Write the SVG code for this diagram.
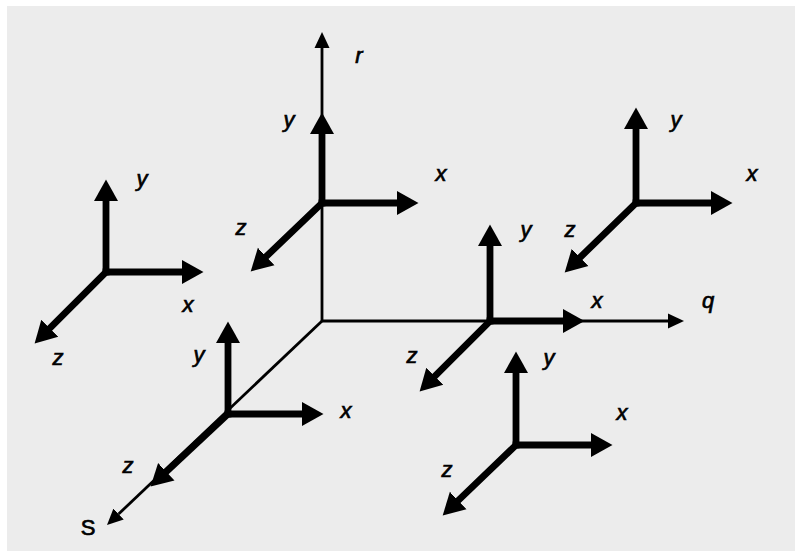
<svg xmlns="http://www.w3.org/2000/svg" width="795" height="551" viewBox="0 0 795 551">
  <defs>
    <marker id="head" markerUnits="userSpaceOnUse" markerWidth="23" markerHeight="26" viewBox="0 -13 23 26" refX="0" refY="0" orient="auto">
      <path d="M0,-12 L21.5,0 L0,12 Z" fill="#000"/>
    </marker>
    <marker id="head-thin" markerUnits="userSpaceOnUse" markerWidth="17" markerHeight="18" viewBox="0 -9 17 18" refX="0" refY="0" orient="auto">
      <path d="M0,-7.5 L16,0 L0,7.5 Z" fill="#000"/>
    </marker>
  </defs>
  <style>
    .bold { stroke: #000; stroke-width: 6.8; stroke-linecap: square; fill: none; marker-end: url(#head); }
    .thin { stroke: #000; stroke-width: 2.8; fill: none; marker-end: url(#head-thin); }
    text { font-family: "Liberation Sans", Arial, sans-serif; font-size: 22px; font-style: italic; fill: #000; stroke: #000; stroke-width: 0.7; text-anchor: middle; }
    text.up { font-style: normal; }
  </style>

  <!-- paper -->
  <rect x="0" y="0" width="795" height="551" fill="#ffffff"/>
  <rect x="7" y="6" width="788" height="545" fill="#ececec"/>

  <!-- reference axes r, q, s -->
  <g id="connectors">
    <line class="thin" x1="322" y1="321" x2="322" y2="48"/>
    <line class="thin" x1="321" y1="321" x2="668" y2="321"/>
    <line class="thin" x1="322" y1="321" x2="118.6" y2="514"/>
    <text x="359" y="63">r</text>
    <text x="708" y="308">q</text>
    <text class="up" x="88" y="535">S</text>
  </g>

  <!-- frame on the r axis -->
  <g id="frame-top">
    <line class="bold" x1="322" y1="203" x2="322" y2="134"/>
    <line class="bold" x1="322" y1="203" x2="397" y2="203"/>
    <line class="bold" x1="322" y1="203" x2="266.2" y2="256.5"/>
    <text x="289" y="127">y</text>
    <text x="441" y="181">x</text>
    <text x="241" y="235">z</text>
  </g>

  <!-- free frame, left -->
  <g id="frame-left">
    <line class="bold" x1="106" y1="272" x2="106" y2="201"/>
    <line class="bold" x1="106" y1="272" x2="182" y2="272"/>
    <line class="bold" x1="106" y1="272" x2="49.8" y2="328.2"/>
    <text x="142" y="186">y</text>
    <text x="188" y="312">x</text>
    <text x="58" y="365">z</text>
  </g>

  <!-- free frame, top right -->
  <g id="frame-top-right">
    <line class="bold" x1="636" y1="203" x2="636" y2="129"/>
    <line class="bold" x1="636" y1="203" x2="711" y2="203"/>
    <line class="bold" x1="636" y1="203" x2="580.1" y2="257.4"/>
    <text x="676" y="127">y</text>
    <text x="752" y="181">x</text>
    <text x="570" y="237">z</text>
  </g>

  <!-- frame on the q axis -->
  <g id="frame-q">
    <line class="bold" x1="490" y1="321" x2="490" y2="246"/>
    <line class="bold" x1="490" y1="321" x2="563" y2="321"/>
    <line class="bold" x1="490" y1="321" x2="434.8" y2="376.2"/>
    <text x="526" y="237">y</text>
    <text x="597" y="308">x</text>
    <text x="412" y="363">z</text>
  </g>

  <!-- frame on the s axis -->
  <g id="frame-s">
    <line class="bold" x1="228" y1="414" x2="228" y2="343"/>
    <line class="bold" x1="228" y1="414" x2="302" y2="414"/>
    <line class="bold" x1="228" y1="414" x2="166.3" y2="471.7"/>
    <text x="199" y="362">y</text>
    <text x="346" y="418">x</text>
    <text x="128" y="473">z</text>
  </g>

  <!-- free frame, bottom right -->
  <g id="frame-bottom-right">
    <line class="bold" x1="516" y1="445" x2="516" y2="373"/>
    <line class="bold" x1="516" y1="445" x2="591" y2="445"/>
    <line class="bold" x1="516" y1="445" x2="458.2" y2="500.5"/>
    <text x="549" y="365">y</text>
    <text x="622" y="420">x</text>
    <text x="447" y="477">z</text>
  </g>
</svg>
